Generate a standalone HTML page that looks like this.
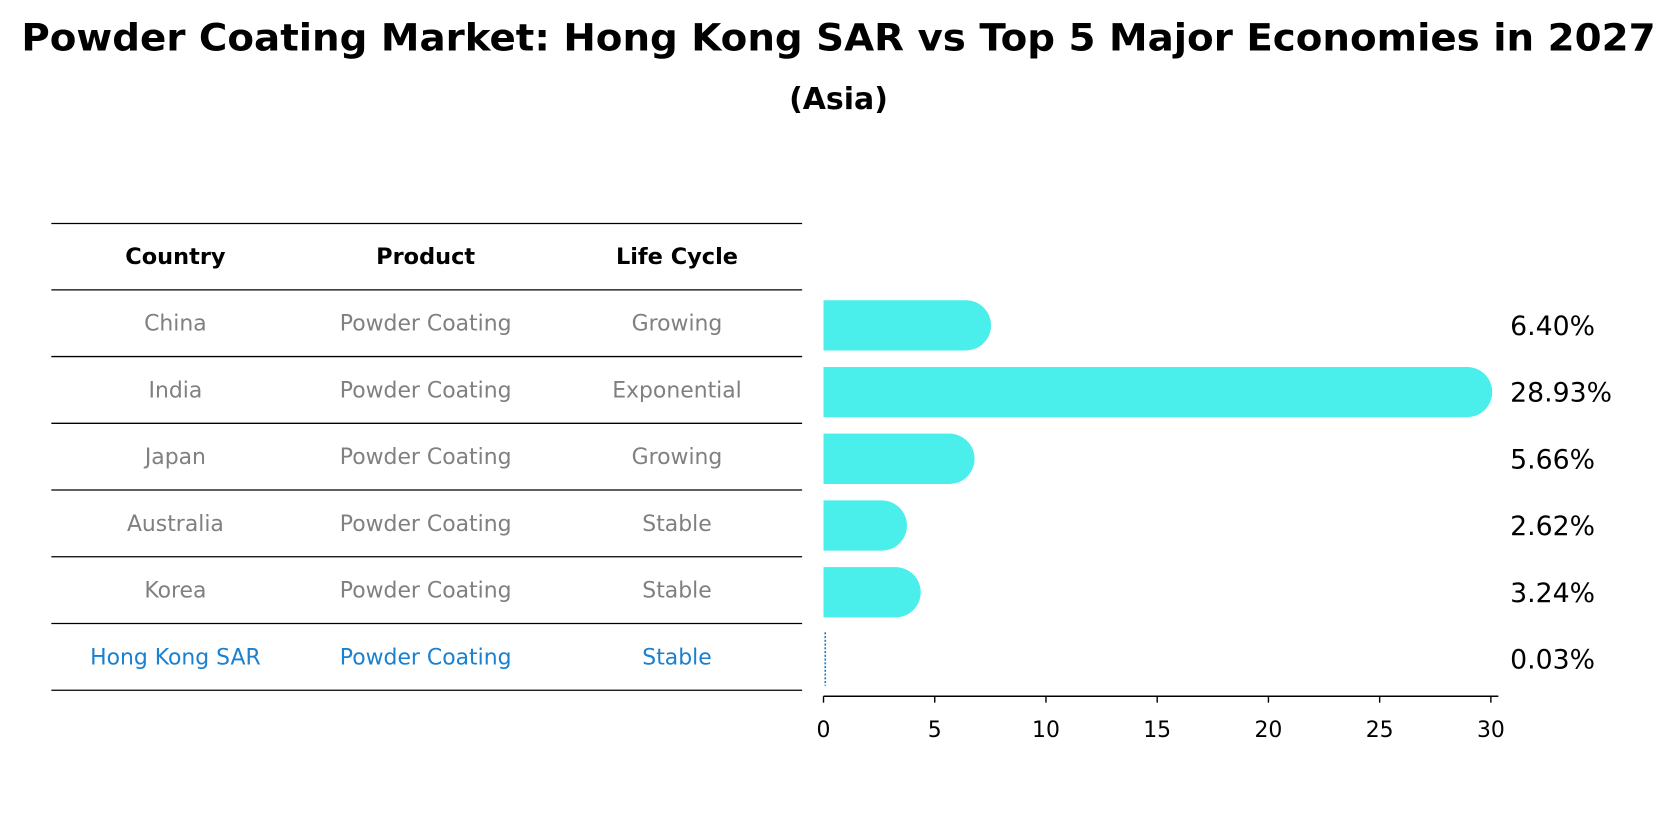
<!DOCTYPE html>
<html><head><meta charset="utf-8"><style>
body{margin:0;background:#fff;font-family:"Liberation Sans","DejaVu Sans",sans-serif;}
#wrap{position:relative;width:1676px;height:823px;overflow:hidden;}
</style></head><body>
<div id="wrap">
<svg id="svg" width="1676" height="823" xmlns="http://www.w3.org/2000/svg">
<g transform="scale(1.0695)">
<text x="20" y="47" textLength="1528" lengthAdjust="spacingAndGlyphs" font-size="35" font-weight="bold" fill="#000" font-family="DejaVu Sans, sans-serif">Powder Coating Market: Hong Kong SAR vs Top 5 Major Economies in 2027</text>
<text x="784" y="102" text-anchor="middle" font-size="28" font-weight="bold" fill="#000" font-family="DejaVu Sans, sans-serif">(Asia)</text>
<g id="table"></g>
<g id="bars"></g>
</g>
</svg>
</div>
<script>
const countries=["China","India","Japan","Australia","Korea","Hong Kong SAR"];
const products=["Powder Coating","Powder Coating","Powder Coating","Powder Coating","Powder Coating","Powder Coating"];
const lifeCycles=["Growing","Exponential","Growing","Stable","Stable","Stable"];
const values=[6.40,28.93,5.66,2.62,3.24,0.03];
const ticks=[0,5,10,15,20,25,30];

const NS="http://www.w3.org/2000/svg";
function mk(tag,attrs,parent,txt){const e=document.createElementNS(NS,tag);for(const k in attrs)e.setAttribute(k,attrs[k]);if(txt!==undefined)e.textContent=txt;parent.appendChild(e);return e;}
const x0=770,pxPer=20.8;
const xs=v=>x0+v*pxPer;
const rowTop=271,rowH=62.4;
const yc=i=>rowTop+rowH*i+rowH/2;
const FF="DejaVu Sans, sans-serif";
const tbl=document.getElementById('table');
const colX=[164,398,633];
const hdrs=["Country","Product","Life Cycle"];
hdrs.forEach((h,j)=>{
  const t=mk('text',{x:colX[j],y:247,'text-anchor':'middle','font-size':21,'font-weight':'bold','font-family':FF,fill:'#000'},tbl,h);
  
  
});
for(let i=0;i<=countries.length+1;i++){
  const y=i===0?209:rowTop+rowH*(i-1);
  const l=mk('line',{x1:48,x2:750,y1:y,y2:y,stroke:'#000','stroke-width':1.2},tbl);
  
  
}
countries.forEach((c,i)=>{
  const col=i===countries.length-1?'#1a80d0':'#808080';
  [c,products[i],lifeCycles[i]].forEach((v,j)=>{
    const t=mk('text',{x:colX[j],y:yc(i)+7,'text-anchor':'middle','font-size':20.5,'font-family':FF,fill:col},tbl,v);
    
    
  });
});
const g=document.getElementById('bars');
const bh=47,r=23.5;
values.forEach((v,i)=>{
  const cy=yc(i)+2;
  if(v<0.5){
    const l=mk('line',{x1:xs(v)+1,x2:xs(v)+1,y1:cy-25,y2:cy+25,stroke:'#1a80d0','stroke-width':1.5,'stroke-dasharray':'2,1.5'},g);
    
    
  } else {
    const p=mk('path',{d:`M${x0},${cy-bh/2} H${xs(v)} A${r},${r} 0 0 1 ${xs(v)},${cy+bh/2} H${x0} Z`,fill:'#4aeeea'},g);
    
    
  }
  const t=mk('text',{x:1412,y:cy+9,'font-size':25,'font-family':FF,fill:'#000'},g,v.toFixed(2)+'%');
  
  
});
const ax=mk('line',{x1:x0,x2:1401,y1:651,y2:651,stroke:'#000','stroke-width':1.3},g);


ticks.forEach(tv=>{
  const tl=mk('line',{x1:xs(tv),x2:xs(tv),y1:651,y2:657,stroke:'#000','stroke-width':1.3},g);
  
  
  const tt=mk('text',{x:xs(tv),y:689,'text-anchor':'middle','font-size':20.5,'font-family':FF,fill:'#000'},g,String(tv));
  
  
});
</script>
</body></html>
